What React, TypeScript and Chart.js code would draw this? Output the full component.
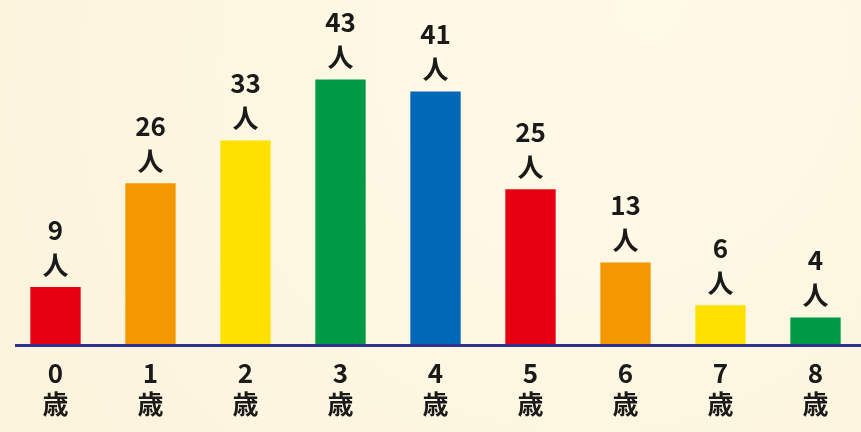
import React, { useEffect, useRef } from "react";
import { Chart, registerables } from "chart.js";

Chart.register(...registerables);

const ages = ["0", "1", "2", "3", "4", "5", "6", "7", "8"];
const ageUnit = "歳";
const counts = [9, 26, 33, 43, 41, 25, 13, 6, 4];
const countUnit = "人";
const barColors = ["#e60012", "#f39800", "#ffe100", "#009944", "#0068b7", "#e60012", "#f39800", "#ffe100", "#009944"];

const FONT = "'Noto Sans CJK JP', 'Noto Sans', sans-serif";

export default function App() {
  const ref = useRef<HTMLCanvasElement | null>(null);
  useEffect(() => {
    if (!ref.current) return;
    const bgPlugin = {
      id: "bg",
      beforeDraw(chart: any) {
        const { ctx, width, height } = chart;
        ctx.save();
        const g = ctx.createRadialGradient(width * 0.75, 0, 10, width * 0.6, height * 0.3, width * 0.8);
        g.addColorStop(0, "#fffae8");
        g.addColorStop(1, "#fbf2da");
        ctx.fillStyle = g;
        ctx.fillRect(0, 0, width, height);
        ctx.restore();
      },
    };
    const overlay = {
      id: "overlay",
      afterDatasetsDraw(chart: any) {
        const { ctx, chartArea } = chart;
        ctx.save();
        ctx.strokeStyle = "#2e3192";
        ctx.lineWidth = 3;
        ctx.beginPath();
        ctx.moveTo(15, chartArea.bottom);
        ctx.lineTo(chart.width, chartArea.bottom);
        ctx.stroke();
        const meta = chart.getDatasetMeta(0);
        ctx.fillStyle = "#1a1a1a";
        ctx.font = `bold 26px ${FONT}`;
        ctx.textAlign = "center";
        ctx.textBaseline = "middle";
        meta.data.forEach((bar: any, i: number) => {
          ctx.fillText(String(counts[i]), bar.x, bar.y - 57);
          ctx.fillText(countUnit, bar.x, bar.y - 22);
        });
        ctx.restore();
      },
    };
    const chart = new Chart(ref.current, {
      type: "bar",
      data: {
        labels: ages.map((a) => [a, ageUnit]),
        datasets: [
          {
            data: counts,
            backgroundColor: barColors,
            borderWidth: 0,
            categoryPercentage: 0.53,
            barPercentage: 1,
            base: -0.6,
          },
        ],
      },
      options: {
        animation: false,
        responsive: false,
        maintainAspectRatio: false,
        layout: { padding: { left: 8, right: 7, top: 0, bottom: 0 } },
        plugins: { legend: { display: false }, tooltip: { enabled: false } },
        scales: {
          x: {
            grid: { display: false, drawTicks: false, tickLength: 0 },
            border: { display: false },
            ticks: {
              color: "#1a1a1a",
              font: { family: FONT, size: 26, weight: "bold", lineHeight: 1.2 },
              padding: 12,
              maxRotation: 0,
              autoSkip: false,
            },
          },
          y: {
            display: false,
            min: -0.6,
            max: 56.0,
          },
        },
      },
      plugins: [bgPlugin, overlay],
    });
    return () => chart.destroy();
  }, []);
  return (
    <div style={{ position: "fixed", left: 0, top: 0, width: 870, height: 432 }}>
      <canvas ref={ref} width={870} height={432} style={{ display: "block" }} />
    </div>
  );
}
